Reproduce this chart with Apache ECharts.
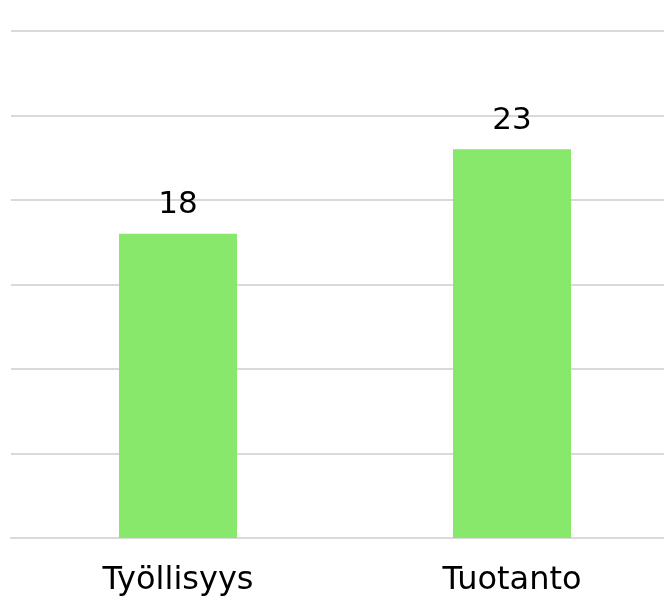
<!DOCTYPE html>
<html>
<head>
<meta charset="utf-8">
<script src="https://cdn.jsdelivr.net/npm/echarts@6/dist/echarts.min.js"></script>
<style>
  html, body { margin: 0; padding: 0; background: #fff; }
  #chart { width: 664px; height: 598px; }
</style>
</head>
<body>
<div id="chart"></div>
<script>
var categories = ['Työllisyys', 'Tuotanto']
var values = [18, 23]

var chart = echarts.init(document.getElementById('chart'))
chart.setOption({
  animation: false,
  grid: {
    top: 31,
    left: 11,
    right: -15,
    bottom: 60,
    outerBoundsMode: 'none',
    containLabel: false
  },
  xAxis: {
    type: 'category',
    data: categories,
    axisTick: { show: false },
    axisLine: { lineStyle: { color: '#d9d9d9', width: 2 } },
    axisLabel: {
      color: '#000',
      fontFamily: 'DejaVu Sans',
      fontSize: 32,
      margin: 27
    }
  },
  yAxis: {
    type: 'value',
    min: 0,
    max: 30,
    interval: 5,
    axisLabel: { show: false },
    axisLine: { show: false },
    axisTick: { show: false },
    splitLine: { lineStyle: { color: '#d9d9d9', width: 2 } }
  },
  series: [{
    type: 'bar',
    data: values,
    barWidth: 118,
    itemStyle: { color: '#87E86B' },
    label: {
      show: true,
      position: 'top',
      distance: 13,
      color: '#000',
      fontFamily: 'DejaVu Sans',
      fontSize: 31
    }
  }]
})
</script>
</body>
</html>
